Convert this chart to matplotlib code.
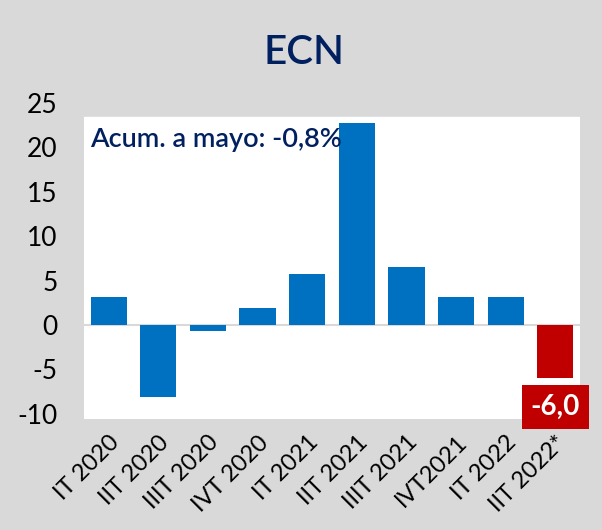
import matplotlib
matplotlib.use("Agg")
import matplotlib.pyplot as plt

plt.rcParams["font.family"] = ["Lato", "DejaVu Sans"]
plt.rcParams["axes.unicode_minus"] = False

# data
quarters = ["IT 2020", "IIT 2020", "IIIT 2020", "IVT 2020", "IT 2021",
            "IIT 2021", "IIIT 2021", "IVT2021", "IT 2022", "IIT 2022*"]
values = [3.1, -8.1, -0.7, 1.9, 5.7, 22.7, 6.5, 3.1, 3.2, -6.0]
y_ticks = [-10, -5, 0, 5, 10, 15, 20, 25]
title = "ECN"
note = "Acum. a mayo: -0,8%"
last_label = "-6,0"

blue = "#0070c0"
red = "#c00000"
navy = "#002060"
grey = "#d9d9d9"

fig = plt.figure(figsize=(6.02, 5.30), dpi=100, facecolor=grey)
ax = fig.add_axes([0.1395, 0.209, 0.824, 0.597])
ax.set_facecolor("none")

# white plot area (Excel-style, slightly shorter than the value range)
ax.axhspan(-10.6, 23.4, color="white", zorder=0)
ax.axhline(0, color=grey, lw=1.5, zorder=1)

x = range(len(quarters))
colors = [blue] * (len(values) - 1) + [red]
ax.bar(x, values, width=0.73, color=colors, zorder=2)

ax.set_xlim(-0.5, len(quarters) - 0.5)
ax.set_ylim(-10.6, 25)
ax.set_yticks(y_ticks)
ax.set_yticklabels([str(t) for t in y_ticks], fontsize=19)
ax.set_xticks(list(x))
ax.set_xticklabels(quarters, fontsize=17, rotation=45, ha="right",
                   rotation_mode="anchor")
ax.tick_params(length=0)
ax.tick_params(axis="y", pad=19)
ax.tick_params(axis="x", pad=9)
for s in ax.spines.values():
    s.set_visible(False)

fig.text(0.505, 0.9, title, ha="center", va="center", fontsize=29,
         color=navy, fontweight="semibold")
ax.text(-0.38, 20.9, note, ha="left", va="center", fontsize=19.5,
        color=navy, fontweight="semibold", zorder=3)
ax.text(9, -9.2, last_label, ha="center", va="center", fontsize=20,
        color="white", fontweight="bold", zorder=4, clip_on=False,
        bbox=dict(boxstyle="square,pad=0.32", fc=red, ec="none"))

fig.savefig("out.png", dpi=100, facecolor=grey)
